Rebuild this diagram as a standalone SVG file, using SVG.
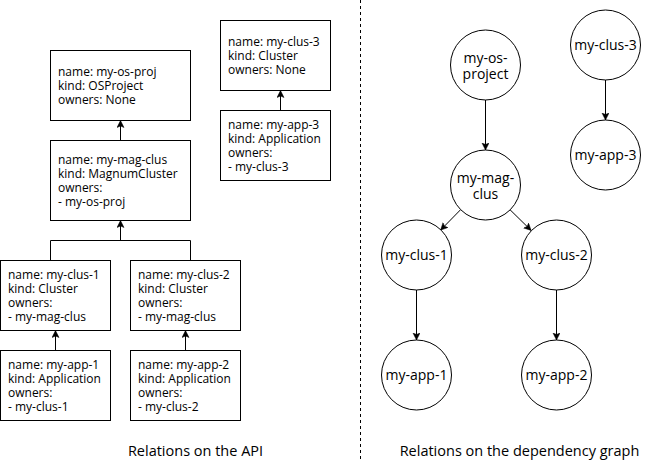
<svg xmlns="http://www.w3.org/2000/svg" width="651" height="462" viewBox="0 0 651 462">
<defs>
<marker id="arr" markerUnits="userSpaceOnUse" markerWidth="8" markerHeight="8" refX="7" refY="3.5" orient="auto">
<path d="M0,0 L7,3.5 L0,7 L1.5,3.5 Z" fill="#000" stroke="#000" stroke-width="0.5"/>
</marker>
<style>
.box{fill:#fff;stroke:#000;stroke-width:1}
.node{fill:#fff;stroke:#000;stroke-width:1}
.t{font-family:"Open Sans","Noto Sans","Liberation Sans",sans-serif;font-size:12px;fill:#000}
.c{font-family:"Open Sans","Noto Sans","Liberation Sans",sans-serif;font-size:14px;fill:#000;text-anchor:middle}
.cap{font-family:"Open Sans","Noto Sans","Liberation Sans",sans-serif;font-size:14.5px;fill:#000;text-anchor:middle}
.e{fill:none;stroke:#000;stroke-width:1}
</style>
</defs>
<rect width="651" height="462" fill="#fff"/>
<line x1="360.5" y1="0" x2="360.5" y2="462" stroke="#000" stroke-width="1" stroke-dasharray="3 3"/>

<g id="connectors">
<line class="e" x1="120.5" y1="140" x2="120.5" y2="120.5" marker-end="url(#arr)"/>
<path class="e" d="M50.5,260 V240.5 H190.5 V260"/>
<line class="e" x1="120.5" y1="240.5" x2="120.5" y2="220.5" marker-end="url(#arr)"/>
<line class="e" x1="55.5" y1="350" x2="55.5" y2="330.5" marker-end="url(#arr)"/>
<line class="e" x1="185.5" y1="350" x2="185.5" y2="330.5" marker-end="url(#arr)"/>
<line class="e" x1="280.5" y1="110" x2="280.5" y2="90.5" marker-end="url(#arr)"/>
<line class="e" x1="485.5" y1="100" x2="485.5" y2="150" marker-end="url(#arr)"/>
<line class="e" x1="460.4" y1="209.9" x2="440.6" y2="230.1" marker-end="url(#arr)"/>
<line class="e" x1="509.9" y1="209.6" x2="531.1" y2="230.4" marker-end="url(#arr)"/>
<line class="e" x1="416.5" y1="290" x2="416.5" y2="340" marker-end="url(#arr)"/>
<line class="e" x1="556.5" y1="290" x2="556.5" y2="340" marker-end="url(#arr)"/>
<line class="e" x1="605.5" y1="80" x2="605.5" y2="120" marker-end="url(#arr)"/>
</g>

<g id="api-os-proj">
<rect class="box" x="50.5" y="50.5" width="140" height="70"/>
<text class="t" x="58" y="76"><tspan x="58" y="76">name: my-os-proj</tspan><tspan x="58" y="90">kind: OSProject</tspan><tspan x="58" y="104">owners: None</tspan></text>
</g>
<g id="api-mag-clus">
<rect class="box" x="50.5" y="140.5" width="140" height="80"/>
<text class="t" x="58" y="164"><tspan x="58" y="164">name: my-mag-clus</tspan><tspan x="58" y="178">kind: MagnumCluster</tspan><tspan x="58" y="192">owners:</tspan><tspan x="58" y="206">- my-os-proj</tspan></text>
</g>
<g id="api-clus-3">
<rect class="box" x="220.5" y="20.5" width="110" height="70"/>
<text class="t" x="228" y="46"><tspan x="228" y="46">name: my-clus-3</tspan><tspan x="228" y="60">kind: Cluster</tspan><tspan x="228" y="74">owners: None</tspan></text>
</g>
<g id="api-app-3">
<rect class="box" x="220.5" y="110.5" width="110" height="70"/>
<text class="t" x="228" y="129"><tspan x="228" y="129">name: my-app-3</tspan><tspan x="228" y="143">kind: Application</tspan><tspan x="228" y="157">owners:</tspan><tspan x="228" y="171">- my-clus-3</tspan></text>
</g>
<g id="api-clus-1">
<rect class="box" x="0.5" y="260.5" width="110" height="70"/>
<text class="t" x="8" y="279"><tspan x="8" y="279">name: my-clus-1</tspan><tspan x="8" y="293">kind: Cluster</tspan><tspan x="8" y="307">owners:</tspan><tspan x="8" y="321">- my-mag-clus</tspan></text>
</g>
<g id="api-clus-2">
<rect class="box" x="130.5" y="260.5" width="110" height="70"/>
<text class="t" x="138" y="279"><tspan x="138" y="279">name: my-clus-2</tspan><tspan x="138" y="293">kind: Cluster</tspan><tspan x="138" y="307">owners:</tspan><tspan x="138" y="321">- my-mag-clus</tspan></text>
</g>
<g id="api-app-1">
<rect class="box" x="0.5" y="350.5" width="110" height="70"/>
<text class="t" x="8" y="369"><tspan x="8" y="369">name: my-app-1</tspan><tspan x="8" y="383">kind: Application</tspan><tspan x="8" y="397">owners:</tspan><tspan x="8" y="411">- my-clus-1</tspan></text>
</g>
<g id="api-app-2">
<rect class="box" x="130.5" y="350.5" width="110" height="70"/>
<text class="t" x="138" y="369"><tspan x="138" y="369">name: my-app-2</tspan><tspan x="138" y="383">kind: Application</tspan><tspan x="138" y="397">owners:</tspan><tspan x="138" y="411">- my-clus-2</tspan></text>
</g>

<g id="dep-os-project">
<circle class="node" cx="485.5" cy="65" r="35"/>
<text class="c" x="485.5" y="62.5"><tspan x="485.5" y="62.5">my-os-</tspan><tspan x="485.5" y="79">project</tspan></text>
</g>
<g id="dep-mag-clus">
<circle class="node" cx="485.5" cy="185" r="35"/>
<text class="c" x="485.5" y="182.5"><tspan x="485.5" y="182.5">my-mag-</tspan><tspan x="485.5" y="199">clus</tspan></text>
</g>
<g id="dep-clus-3">
<circle class="node" cx="605.5" cy="45" r="35"/>
<text class="c" x="605.5" y="50">my-clus-3</text>
</g>
<g id="dep-app-3">
<circle class="node" cx="605.5" cy="155" r="35"/>
<text class="c" x="605.5" y="160">my-app-3</text>
</g>
<g id="dep-clus-1">
<circle class="node" cx="416.5" cy="255" r="35"/>
<text class="c" x="416.5" y="260">my-clus-1</text>
</g>
<g id="dep-clus-2">
<circle class="node" cx="556.5" cy="255" r="35"/>
<text class="c" x="556.5" y="260">my-clus-2</text>
</g>
<g id="dep-app-1">
<circle class="node" cx="416.5" cy="375" r="35"/>
<text class="c" x="416.5" y="380">my-app-1</text>
</g>
<g id="dep-app-2">
<circle class="node" cx="556.5" cy="375" r="35"/>
<text class="c" x="556.5" y="380">my-app-2</text>
</g>

<g id="captions">
<text class="cap" x="195.5" y="456">Relations on the API</text>
<text class="cap" x="519.5" y="456">Relations on the dependency graph</text>
</g>
</svg>
